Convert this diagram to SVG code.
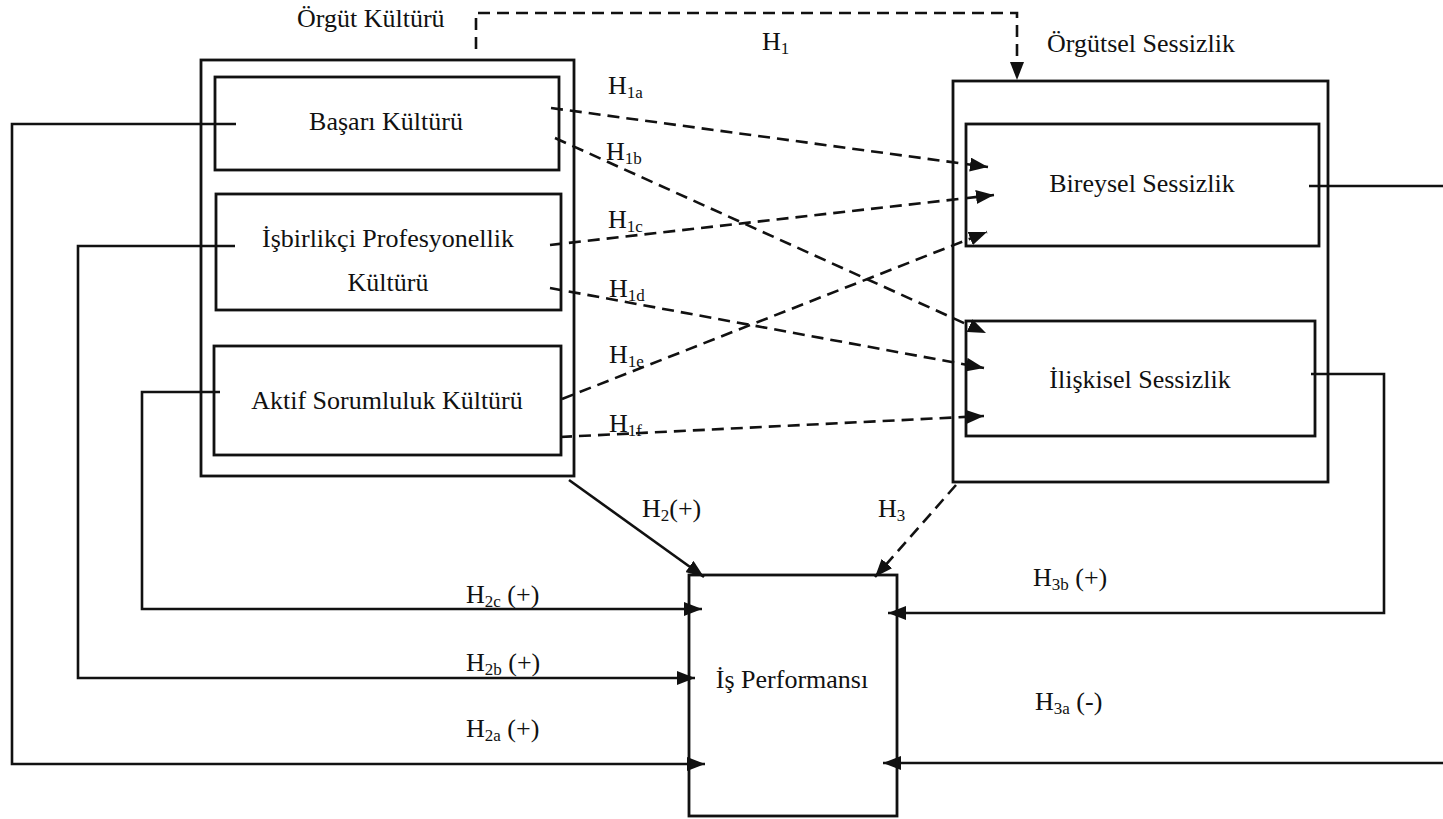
<svg xmlns="http://www.w3.org/2000/svg" width="1443" height="819" viewBox="0 0 1443 819">
<style>
text{font-family:"Liberation Serif","Times New Roman",serif;font-size:26px;fill:#111}
.box{fill:none;stroke:#111;stroke-width:2.8}
.ln{fill:none;stroke:#111;stroke-width:2.6}
.dash{stroke-dasharray:12 7}
.sub{font-size:17px}
.c{text-anchor:middle}
</style>
<defs>
<marker id="ah" viewBox="0 0 18 14" refX="18" refY="7" markerWidth="18" markerHeight="14" orient="auto" markerUnits="userSpaceOnUse"><path d="M0,0 L18,7 L0,14 z" fill="#111"/></marker>
</defs>
<rect width="1443" height="819" fill="#fff"/>
<g id="connectors">
<path class="ln dash" d="M476,49 V13 H1017 V80" marker-end="url(#ah)"/>
<path class="ln dash" d="M551,108 L988,167" marker-end="url(#ah)"/>
<path class="ln dash" d="M555,138 L986,333" marker-end="url(#ah)"/>
<path class="ln dash" d="M550,245 L994,195" marker-end="url(#ah)"/>
<path class="ln dash" d="M550,288 L984,368" marker-end="url(#ah)"/>
<path class="ln dash" d="M562,399 L987,232" marker-end="url(#ah)"/>
<path class="ln dash" d="M560,437 L984,416" marker-end="url(#ah)"/>
<path class="ln" d="M569,480 L704,577" marker-end="url(#ah)"/>
<path class="ln dash" d="M956,485 L875,577" marker-end="url(#ah)"/>
<path class="ln" d="M236,124 H12 V764 H705" marker-end="url(#ah)"/>
<path class="ln" d="M235,246 H78 V678 H695" marker-end="url(#ah)"/>
<path class="ln" d="M220,392 H142 V609 H702" marker-end="url(#ah)"/>
<path class="ln" d="M1311,374 H1384 V613 H888" marker-end="url(#ah)"/>
<path class="ln" d="M1443,763 H883" marker-end="url(#ah)"/>
<path class="ln" d="M1309,186 H1443"/>
<text x="762" y="50">H<tspan class="sub" dy="4">1</tspan></text>
<text x="608" y="94">H<tspan class="sub" dy="4">1a</tspan></text>
<text x="606" y="160">H<tspan class="sub" dy="4">1b</tspan></text>
<text x="608" y="228">H<tspan class="sub" dy="4">1c</tspan></text>
<text x="609" y="297">H<tspan class="sub" dy="4">1d</tspan></text>
<text x="609" y="363">H<tspan class="sub" dy="4">1e</tspan></text>
<text x="609" y="432">H<tspan class="sub" dy="4">1f</tspan></text>
<text x="642" y="517">H<tspan class="sub" dy="4">2</tspan><tspan dy="-4">(+)</tspan></text>
<text x="878" y="517">H<tspan class="sub" dy="4">3</tspan></text>
<text x="466" y="603">H<tspan class="sub" dy="4">2c</tspan><tspan dy="-4"> (+)</tspan></text>
<text x="466" y="671">H<tspan class="sub" dy="4">2b</tspan><tspan dy="-4"> (+)</tspan></text>
<text x="466" y="737">H<tspan class="sub" dy="4">2a</tspan><tspan dy="-4"> (+)</tspan></text>
<text x="1033" y="586">H<tspan class="sub" dy="4">3b</tspan><tspan dy="-4"> (+)</tspan></text>
<text x="1035" y="710">H<tspan class="sub" dy="4">3a</tspan><tspan dy="-4"> (-)</tspan></text>
</g>
<g id="orgut-kulturu">
<rect class="box" x="201" y="60" width="373" height="416"/>
<text x="297" y="27">Örgüt Kültürü</text>
</g>
<g id="basari-kulturu">
<rect class="box" x="215" y="77" width="344" height="93"/>
<text class="c" x="386" y="130">Başarı Kültürü</text>
</g>
<g id="isbirlikci-profesyonellik">
<rect class="box" x="216" y="194" width="345" height="116"/>
<text class="c" x="388" y="247">İşbirlikçi Profesyonellik</text>
<text class="c" x="388" y="291">Kültürü</text>
</g>
<g id="aktif-sorumluluk">
<rect class="box" x="214" y="346" width="347" height="109"/>
<text class="c" x="387" y="409">Aktif Sorumluluk Kültürü</text>
</g>
<g id="orgutsel-sessizlik">
<rect class="box" x="953" y="81" width="375" height="401"/>
<text x="1047" y="52">Örgütsel Sessizlik</text>
</g>
<g id="bireysel-sessizlik">
<rect class="box" x="966" y="124" width="353" height="122"/>
<text class="c" x="1142" y="192">Bireysel Sessizlik</text>
</g>
<g id="iliskisel-sessizlik">
<rect class="box" x="966" y="321" width="349" height="115"/>
<text class="c" x="1140" y="388">İlişkisel Sessizlik</text>
</g>
<g id="is-performansi">
<rect class="box" x="689" y="575" width="208" height="241"/>
<text class="c" x="792" y="688">İş Performansı</text>
</g>
</svg>
